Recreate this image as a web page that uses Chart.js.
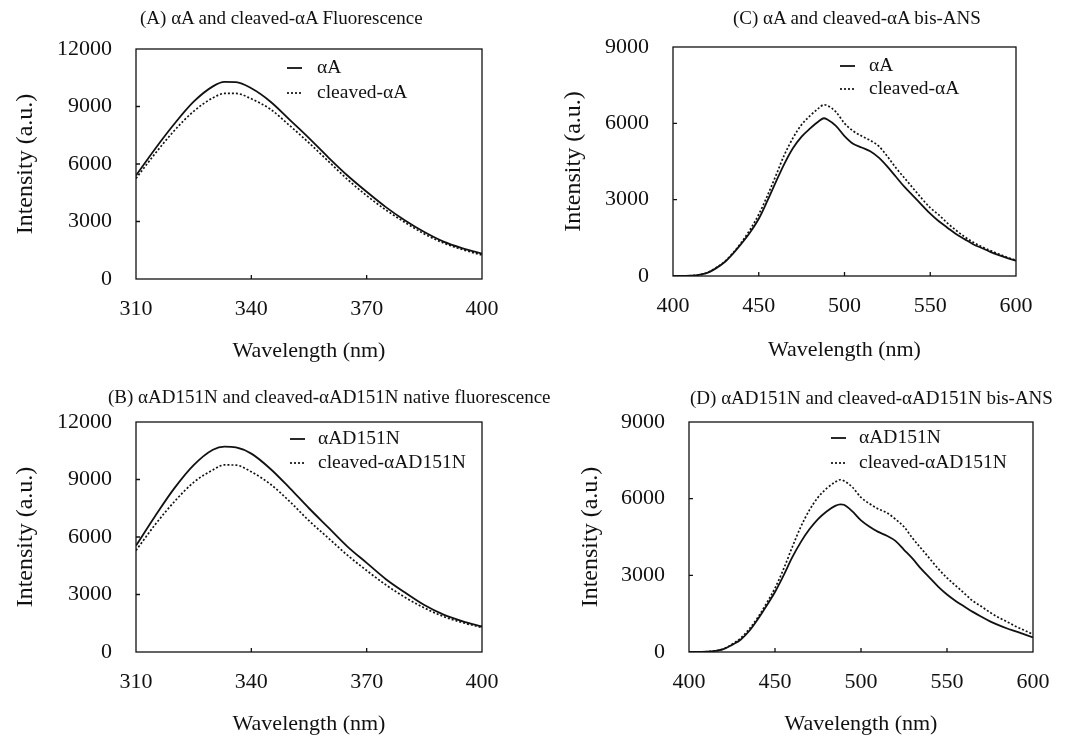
<!DOCTYPE html>
<html>
<head>
<meta charset="utf-8">
<script src="https://cdn.jsdelivr.net/npm/chart.js@4.4.0/dist/chart.umd.min.js"></script>
<style>
  body { margin: 0; background: #ffffff; }
  #page { position: relative; width: 1083px; height: 738px; overflow: hidden; background: #ffffff; }
  canvas { position: absolute; }
  .ptitle {
    position: absolute;
    font-family: "Liberation Serif", "Times New Roman", serif;
    font-size: 19px;
    line-height: 19px;
    color: #111111;
    white-space: nowrap;
  }
</style>
</head>
<body>
<div id="page">
  <canvas id="chartA" width="540" height="370" style="left:0px;top:0px"></canvas>
  <canvas id="chartC" width="543" height="370" style="left:540px;top:0px"></canvas>
  <canvas id="chartB" width="540" height="368" style="left:0px;top:370px"></canvas>
  <canvas id="chartD" width="543" height="368" style="left:540px;top:370px"></canvas>

  <div class="ptitle" style="left:140px;top:8px">(A) αA and cleaved-αA Fluorescence</div>
  <div class="ptitle" style="left:733px;top:8px">(C) αA and cleaved-αA bis-ANS</div>
  <div class="ptitle" style="left:108px;top:387px">(B) αAD151N and cleaved-αAD151N native fluorescence</div>
  <div class="ptitle" style="left:690px;top:388px">(D) αAD151N and cleaved-αAD151N bis-ANS</div>
</div>

<script>
// Native (tryptophan) fluorescence, 310-400 nm
const wavelengthsNative = [310, 315, 320, 325, 330, 333, 336, 340, 345, 350, 355, 360, 365, 370, 375, 380, 385, 390, 395, 400];
const alphaA_native = [5400, 6800, 8100, 9250, 10050, 10280, 10270, 9950, 9250, 8300, 7350, 6350, 5400, 4550, 3750, 3050, 2450, 1950, 1600, 1320];
const cleavedA_native = [5250, 6550, 7750, 8750, 9450, 9680, 9680, 9400, 8850, 8000, 7100, 6150, 5200, 4350, 3600, 2950, 2350, 1880, 1530, 1250];
const alphaD151N_native = [5550, 7100, 8550, 9750, 10550, 10720, 10680, 10350, 9550, 8550, 7500, 6500, 5500, 4650, 3800, 3100, 2450, 1950, 1600, 1330];
const cleavedD151N_native = [5300, 6650, 7850, 8850, 9500, 9760, 9750, 9400, 8750, 7850, 6850, 5950, 5050, 4250, 3500, 2850, 2300, 1850, 1530, 1280];

// bis-ANS fluorescence, 400-600 nm
const wavelengthsANS = [400, 405, 410, 415, 420, 425, 430, 435, 440, 445, 450, 455, 460, 465, 470, 475, 480, 485, 488,
  490, 495, 500, 505, 510, 515, 520, 525, 530, 535, 540, 545, 550, 555, 560, 565, 570, 575, 580, 585, 590, 595, 600];
const alphaA_ans = [0, 0, 10, 40, 120, 300, 540, 880, 1280, 1720, 2250, 2950, 3700, 4420, 5030, 5480, 5800, 6080, 6200,
  6150, 5900, 5500, 5200, 5050, 4900, 4650, 4300, 3900, 3500, 3150, 2800, 2450, 2150, 1900, 1650, 1450, 1250, 1100, 950, 820, 700, 600];
const cleavedA_ans = [0, 0, 10, 40, 130, 320, 560, 910, 1330, 1830, 2420, 3150, 3950, 4770, 5430, 5950, 6300, 6600, 6730,
  6700, 6450, 6000, 5700, 5500, 5330, 5100, 4700, 4250, 3850, 3450, 3050, 2680, 2400, 2080, 1800, 1540, 1330, 1150, 1000, 860, 730, 620];
const alphaD151N_ans = [0, 0, 10, 40, 110, 280, 480, 820, 1280, 1800, 2350, 3000, 3700, 4300, 4800, 5200, 5500, 5720, 5780,
  5760, 5500, 5150, 4900, 4700, 4550, 4350, 4000, 3650, 3250, 2900, 2550, 2250, 2000, 1780, 1570, 1380, 1200, 1050, 920, 810, 690, 570];
const cleavedD151N_ans = [0, 0, 10, 40, 120, 300, 540, 900, 1350, 1900, 2500, 3250, 4100, 4900, 5550, 6050, 6400, 6650, 6740,
  6700, 6450, 6050, 5800, 5600, 5450, 5200, 4900, 4450, 4050, 3650, 3250, 2900, 2600, 2300, 2000, 1780, 1550, 1350, 1180, 1000, 850, 690];

// Tick labels
const ticksNativeX = [310, 340, 370, 400];
const ticksNativeY = [0, 3000, 6000, 9000, 12000];
const ticksAnsX = [400, 450, 500, 550, 600];
const ticksAnsY = [0, 3000, 6000, 9000];

const INK = '#111111';
const SERIF = '"Liberation Serif", "Times New Roman", serif';

// box around the plot with small inward tick marks
const framePlugin = {
  id: 'frame',
  afterDraw(chart) {
    const { ctx, chartArea: a, scales } = chart;
    ctx.save();
    ctx.strokeStyle = INK;
    ctx.lineWidth = 1.3;
    ctx.strokeRect(a.left, a.top, a.width, a.height);
    ctx.beginPath();
    scales.x.ticks.forEach(t => {
      const px = scales.x.getPixelForValue(t.value);
      if (px > a.left + 1 && px < a.right - 1) {
        ctx.moveTo(px, a.bottom);
        ctx.lineTo(px, a.bottom - 4);
      }
    });
    scales.y.ticks.forEach(t => {
      const py = scales.y.getPixelForValue(t.value);
      if (py > a.top + 1 && py < a.bottom - 1) {
        ctx.moveTo(a.left, py);
        ctx.lineTo(a.left + 4, py);
      }
    });
    ctx.stroke();
    ctx.restore();
  }
};

// legend drawn inside the plot, top right
const insideLegend = {
  id: 'insideLegend',
  afterDraw(chart, args, opts) {
    const { ctx, chartArea: a } = chart;
    ctx.save();
    ctx.font = '19.5px ' + SERIF;
    ctx.textBaseline = 'middle';
    chart.data.datasets.forEach((ds, i) => {
      const x = a.left + opts.x;
      const y = a.top + opts.y + i * opts.gap;
      ctx.strokeStyle = ds.borderColor;
      ctx.lineWidth = ds.borderWidth;
      ctx.setLineDash(ds.borderDash || []);
      ctx.beginPath();
      ctx.moveTo(x, y);
      ctx.lineTo(x + 15, y);
      ctx.stroke();
      ctx.setLineDash([]);
      ctx.fillStyle = INK;
      ctx.fillText(ds.label, x + opts.textGap, y);
    });
    ctx.restore();
  }
};

function pts(xs, ys) {
  return xs.map((x, i) => ({ x: x, y: ys[i] }));
}

function buildChart(id, p) {
  const ctx = document.getElementById(id).getContext('2d');
  return new Chart(ctx, {
    type: 'line',
    data: {
      datasets: [
        {
          label: p.labels[0],
          data: pts(p.x, p.solid),
          borderColor: INK,
          borderWidth: 1.8,
          pointRadius: 0,
          cubicInterpolationMode: 'monotone'
        },
        {
          label: p.labels[1],
          data: pts(p.x, p.dotted),
          borderColor: INK,
          borderWidth: 1.7,
          borderDash: [2, 2],
          pointRadius: 0,
          cubicInterpolationMode: 'monotone'
        }
      ]
    },
    options: {
      responsive: false,
      animation: false,
      devicePixelRatio: 1,
      layout: { padding: { left: 0, top: p.area.top, right: p.width - p.area.right, bottom: 0 } },
      plugins: {
        legend: { display: false },
        tooltip: { enabled: false },
        insideLegend: p.legend
      },
      scales: {
        x: {
          type: 'linear',
          min: p.xTicks[0],
          max: p.xTicks[p.xTicks.length - 1],
          grid: { display: false, drawTicks: false },
          border: { display: false },
          afterBuildTicks: s => { s.ticks = p.xTicks.map(v => ({ value: v })); },
          afterFit: s => { s.height = p.height - p.area.bottom; },
          ticks: {
            color: INK,
            font: { family: SERIF, size: 22 },
            padding: 17,
            maxRotation: 0,
            autoSkip: false,
            callback: v => String(v)
          },
          title: {
            display: true,
            text: 'Wavelength (nm)',
            color: INK,
            font: { family: SERIF, size: 22 },
            padding: { top: 0, bottom: p.xTitlePad }
          }
        },
        y: {
          min: 0,
          max: p.yTicks[p.yTicks.length - 1],
          grid: { display: false, drawTicks: false },
          border: { display: false },
          afterBuildTicks: s => { s.ticks = p.yTicks.map(v => ({ value: v })); },
          afterFit: s => { s.width = p.area.left; },
          ticks: {
            color: INK,
            font: { family: SERIF, size: 22 },
            padding: 24,
            autoSkip: false,
            callback: v => String(v)
          },
          title: {
            display: true,
            text: 'Intensity (a.u.)',
            color: INK,
            font: { family: SERIF, size: 24 },
            padding: { top: p.yTitlePad, bottom: 0 }
          }
        }
      }
    },
    plugins: [framePlugin, insideLegend]
  });
}

document.addEventListener('DOMContentLoaded', function () {
  buildChart('chartA', {
    width: 540, height: 370,
    area: { left: 136, top: 49, right: 482, bottom: 279 },
    x: wavelengthsNative, solid: alphaA_native, dotted: cleavedA_native,
    labels: ['αA', 'cleaved-αA'],
    xTicks: ticksNativeX, yTicks: ticksNativeY,
    xTitlePad: 6, yTitlePad: 11,
    legend: { x: 151, y: 19, gap: 25, textGap: 30 }
  });
  buildChart('chartC', {
    width: 543, height: 370,
    area: { left: 133, top: 47, right: 476, bottom: 276 },
    x: wavelengthsANS, solid: alphaA_ans, dotted: cleavedA_ans,
    labels: ['αA', 'cleaved-αA'],
    xTicks: ticksAnsX, yTicks: ticksAnsY,
    xTitlePad: 7, yTitlePad: 19,
    legend: { x: 167, y: 19, gap: 23, textGap: 29 }
  });
  buildChart('chartB', {
    width: 540, height: 368,
    area: { left: 136, top: 52, right: 482, bottom: 282 },
    x: wavelengthsNative, solid: alphaD151N_native, dotted: cleavedD151N_native,
    labels: ['αAD151N', 'cleaved-αAD151N'],
    xTicks: ticksNativeX, yTicks: ticksNativeY,
    xTitlePad: 1, yTitlePad: 11,
    legend: { x: 154, y: 17, gap: 24, textGap: 28 }
  });
  buildChart('chartD', {
    width: 543, height: 368,
    area: { left: 149, top: 52, right: 493, bottom: 282 },
    x: wavelengthsANS, solid: alphaD151N_ans, dotted: cleavedD151N_ans,
    labels: ['αAD151N', 'cleaved-αAD151N'],
    xTicks: ticksAnsX, yTicks: ticksAnsY,
    xTitlePad: 1, yTitlePad: 36,
    legend: { x: 142, y: 16, gap: 25, textGap: 28 }
  });
});
</script>
</body>
</html>
